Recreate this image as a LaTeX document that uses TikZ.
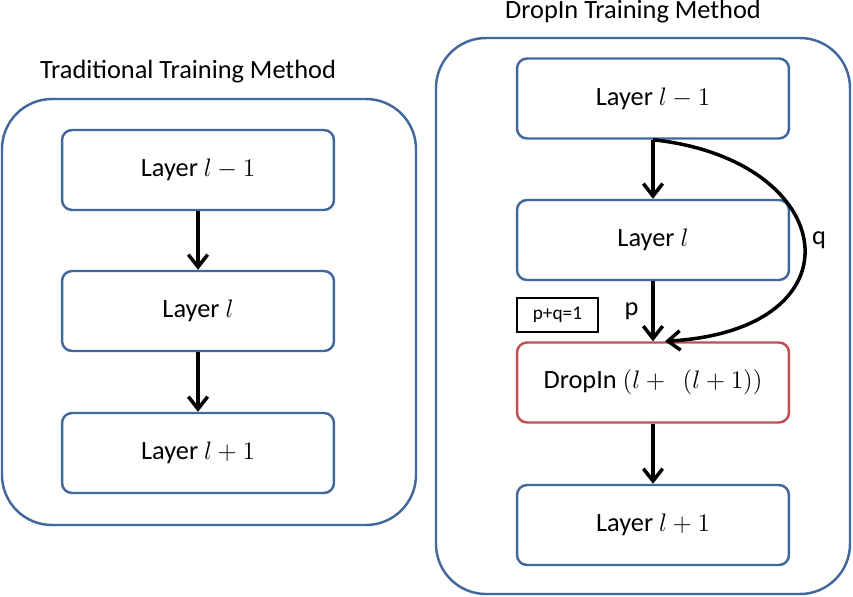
\documentclass[tikz,border=0pt]{standalone}
\usepackage{fontspec}
\setmainfont{Carlito}
\usetikzlibrary{arrows.meta}
\tikzset{
  layer box/.style={draw=boxblue, line width=1.4pt, rounded corners=0.2cm,
                    minimum width=5.44cm, minimum height=1.6cm, inner sep=0,
                    font=\fontsize{15}{18}\selectfont},
  frame box/.style={draw=boxblue, line width=1.4pt, rounded corners=1cm},
  flow arrow/.style={-{Straight Barb[length=7pt,width=11pt,line width=2pt]}, line width=2pt},
}
\definecolor{boxblue}{RGB}{65,104,156}
\definecolor{boxred}{RGB}{192,80,77}

\begin{document}
\begin{tikzpicture}[x=0.02cm, y=-0.02cm]
        % units are reference pixels (853 x 596), y runs downwards
        \useasboundingbox (0,0) rectangle (853,596);

        % ---- outer frames and titles ----
        \draw[frame box] (2,99) rectangle (416,525);
        \draw[frame box] (436,38) rectangle (850,594);
        \node[font=\fontsize{15}{18}\selectfont] (tradTitle) at (188,72) {Traditional Training Method};
        \node[font=\fontsize{15}{18}\selectfont] (dropTitle) at (633,12) {DropIn Training Method};

        % ---- traditional: three layers ----
        \node[layer box] (tPrev) at (198,170) {Layer $l-1$};
        \node[layer box] (tCur)  at (198,311) {Layer $l$};
        \node[layer box] (tNext) at (198,453) {Layer $l+1$};
        \draw[flow arrow] (tPrev) -- (tCur);
        \draw[flow arrow] (tCur) -- (tNext);

        % ---- dropin: layers plus the mixed layer ----
        \node[layer box] (dPrev) at (653,98.5) {Layer $l-1$};
        \node[layer box] (dCur)  at (653,240)  {Layer $l$};
        \node[layer box, draw=boxred] (dMix) at (653,382.5) {DropIn $(l+\ \ (l+1))$};
        \node[layer box] (dNext) at (653,525)  {Layer $l+1$};
        \draw[flow arrow] (dPrev) -- (dCur);
        \draw[flow arrow] (dCur) -- node[left, xshift=-4pt, font=\fontsize{15}{18}\selectfont] {p} (dMix);
        \draw[flow arrow] (dMix) -- (dNext);

        % skip path q, bending round the right of Layer l
        \coordinate (skipEnd) at ([xshift=0.24cm]dMix.north);
        \draw[flow arrow] (dPrev.south) .. controls (840,160) and (865,330) .. (skipEnd);
        \node[font=\fontsize{15}{18}\selectfont] (qLabel) at (819,240) {q};

        % probability note
        \node[draw, line width=1.1pt, minimum width=1.62cm, minimum height=0.68cm,
              inner sep=0, font=\fontsize{11}{13}\selectfont] (pqNote) at (557.5,315) {p+q=1};
\end{tikzpicture}
\end{document}
